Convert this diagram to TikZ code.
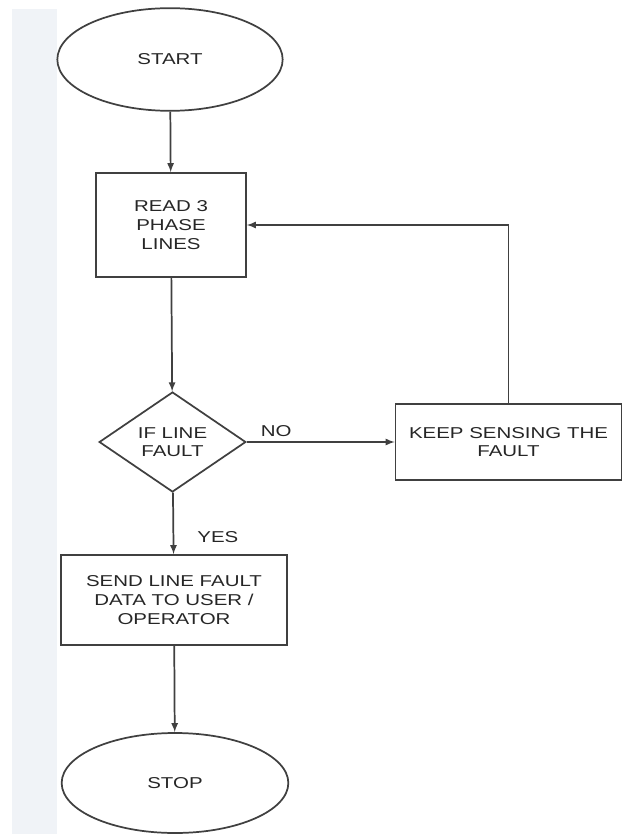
\documentclass[tikz,border=0pt]{standalone}
\usepackage{fontspec}
\setmainfont{Liberation Sans}[FakeStretch=1.3]
\usetikzlibrary{arrows,shapes,positioning,calc}
\newcommand{\flowfont}{\fontsize{11.8}{14}\selectfont}
\definecolor{stripgray}{RGB}{240,243,247}
\tikzset{
    term/.style={
        ellipse,
        draw=black!75,
        line width=1.3pt,
        minimum width=169pt,
        minimum height=77pt,
        inner sep=1pt,
        font=\flowfont,
        text=black!85,
    },
    proc/.style={
        rectangle,
        draw=black!75,
        line width=1.3pt,
        align=center,
        inner sep=1pt,
        font=\flowfont,
        text=black!85,
    },
    test/.style={
        diamond,
        draw=black!75,
        line width=1.3pt,
        align=center,
        aspect=1.47,
        minimum width=110pt,
        minimum height=75pt,
        inner sep=1pt,
        font=\flowfont,
        text=black!85,
    },
    every edge/.style={
        draw=black!75,
        ->,>=latex,
        line width=1.3pt,
    },
    lbl/.style={
        font=\flowfont,
        text=black!85,
    },
    node distance=252pt,
}

\begin{document}
\begin{tikzpicture}[x=0.75pt,y=-0.75pt]
                        \useasboundingbox (0,0) rectangle (625,834);
                        \fill[stripgray] (12,9) rectangle (57,834);
                        \node [term] at (170,59.5) (start) {START};
                        \node [proc,minimum width=112.5pt,minimum height=78pt] at (171,225) (read) {READ 3\\PHASE\\LINES};
                        \node [test] at (172.5,442) (dec) {IF LINE\\FAULT};
                        \node [proc,right of=dec,minimum width=169.5pt,minimum height=57pt] (keep) {KEEP SENSING THE\\FAULT};
                        \node [proc,minimum width=169.5pt,minimum height=67.5pt] at (174,600) (send) {SEND LINE FAULT\\DATA TO USER /\\OPERATOR};
                        \node [term,minimum width=170pt,minimum height=75pt] at (175,783) (stop) {STOP};
                        \draw (start) edge (read);
                        \draw (read) edge (dec);
                        \draw (dec.east) edge node[lbl,pos=0.2,above] {NO} (dec.east -| keep.west);
                        \draw[draw=black!75,line width=1.3pt,->,>=latex] (keep.north) |- (read.east);
                        \draw (dec) edge node[lbl,pos=0.73,right=14pt] {YES} (send);
                        \draw (send) edge (stop);
                    \end{tikzpicture}
\end{document}
